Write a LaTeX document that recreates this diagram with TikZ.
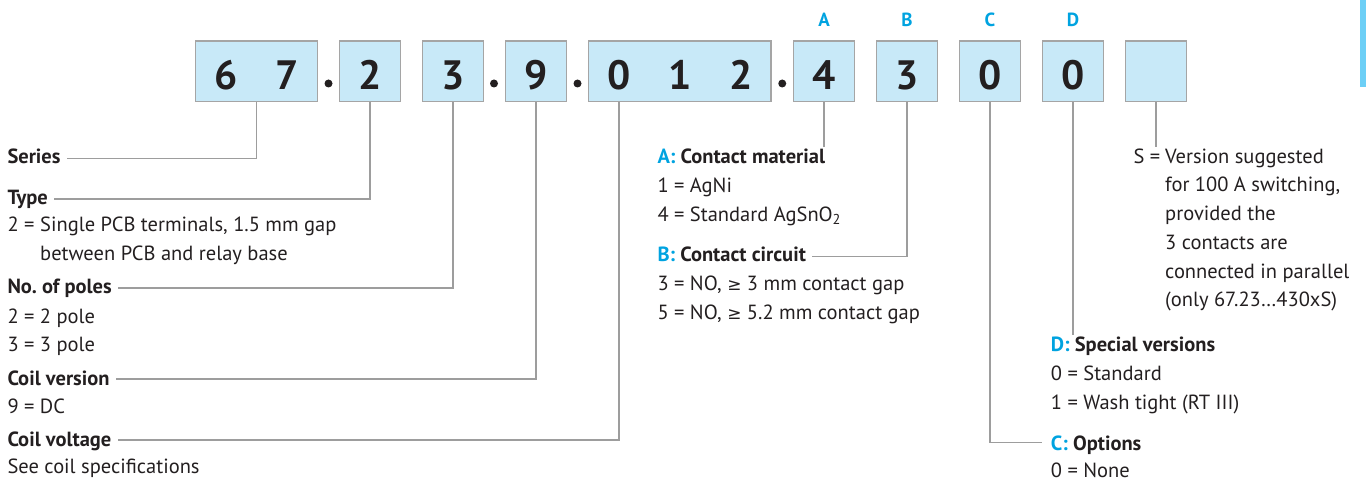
\documentclass[tikz,border=0pt]{standalone}
\usepackage{fontspec}
\setmainfont{PT Sans}
\newfontfamily\symf{DejaVu Sans}
\usetikzlibrary{calc}
\definecolor{cellfill}{HTML}{C8E9F8}
\definecolor{cellline}{HTML}{A5A5A5}
\definecolor{connc}{HTML}{9D9D9D}
\definecolor{cyanA}{HTML}{00A3E0}
\definecolor{txt}{HTML}{231F20}
\definecolor{barc}{HTML}{6DCFF6}
\frenchspacing
\begin{document}
\begin{tikzpicture}[x=1pt,y=-1pt,
 cell/.style={draw=cellline, line width=1.3pt, fill=cellfill, minimum height=60.7pt, minimum width=61pt, inner sep=0pt},
 digit/.style={anchor=base, inner sep=0pt, font=\fontsize{41}{41}\selectfont\bfseries, text=txt},
 letter/.style={anchor=base, inner sep=0pt, font=\fontsize{19}{19}\selectfont\bfseries, text=cyanA},
 lbl/.style={anchor=base west, inner sep=0pt, font=\fontsize{20.5}{24}\selectfont, text=txt},
 head/.style={anchor=base west, inner sep=0pt, font=\fontsize{20.5}{24}\selectfont\bfseries, text=txt},
 connector/.style={draw=connc, line width=1.3pt},
 sepdot/.style={circle, fill=txt, inner sep=0pt, minimum size=8pt}
]
\useasboundingbox (0,0) rectangle (1366,481);
\fill[barc] (1360,0) rectangle (1366,87);

% boxes
\node[cell, minimum width=122pt] (b67) at (256.5,71.35) {};
\node[cell] (b2) at (370,71.35) {};
\node[cell] (b3p) at (453,71.35) {};
\node[cell] (b9) at (536,71.35) {};
\node[cell, minimum width=182.5pt] (b012) at (679.75,71.35) {};
\node[cell] (bA) at (824,71.35) {};
\node[cell] (bB) at (907,71.35) {};
\node[cell] (bC) at (990,71.35) {};
\node[cell] (bD) at (1073,71.35) {};
\node[cell] (bE) at (1156,71.35) {};

% digits
\node[digit] (d6) at (226,89.3) {6};
\node[digit] (d7) at (287,89.3) {7};
\node[digit] (d2) at (370,89.3) {2};
\node[digit] (d3) at (453,89.3) {3};
\node[digit] (d9) at (536,89.3) {9};
\node[digit] (d0) at (619,89.3) {0};
\node[digit] (d1) at (680,89.3) {1};
\node[digit] (d2b) at (741,89.3) {2};
\node[digit] (dA) at (824,89.3) {4};
\node[digit] (dB) at (907,89.3) {3};
\node[digit] (dC) at (990,89.3) {0};
\node[digit] (dD) at (1073,89.3) {0};

% dots
\node[sepdot] (s1) at (328.5,83.5) {};
\node[sepdot] (s2) at (494,83.5) {};
\node[sepdot] (s3) at (577.5,83.5) {};
\node[sepdot] (s4) at (782.25,83.5) {};

% letters
\node[letter] (LA) at (824,26.7) {A};
\node[letter] (LB) at (907,26.7) {B};
\node[letter] (LC) at (990,26.7) {C};
\node[letter] (LD) at (1073,26.7) {D};

% left texts
\node[head] (series) at (7.3,163.5) {Series};
\node[head] (type) at (7.3,205) {Type};
\node[lbl] (t2a) at (7.3,231.7) {2 =};
\node[lbl] (t2b) at (40,231.7) {Single PCB terminals, 1.5 mm gap};
\node[lbl] (t2c) at (40,260.5) {between PCB and relay base};
\node[head] (poles) at (7.3,294) {No. of poles};
\node[lbl] (p2) at (7.3,323.3) {2 = 2 pole};
\node[lbl] (p3) at (7.3,351.7) {3 = 3 pole};
\node[head] (coilv) at (7.3,385) {Coil version};
\node[lbl] (c9) at (7.3,413.3) {9 = DC};
\node[head] (coilu) at (7.3,446) {Coil voltage};
\node[lbl] (cs) at (7.3,473.3) {See coil specifications};

% middle texts
\node[head] (hA) at (657.3,163.3) {{\color{cyanA}A:} Contact material};
\node[lbl] (a1) at (657.3,192.7) {1 = AgNi};
\node[lbl] (a4) at (657.3,221.7) {4 = Standard AgSnO\textsubscript{2}};
\node[head] (hB) at (657.3,261.7) {{\color{cyanA}B:} Contact circuit};
\node[lbl] (b3t) at (657.3,290.7) {3 = NO, {\symf\fontsize{17}{20}\selectfont ≥} 3 mm contact gap};
\node[lbl] (b5t) at (657.3,319.5) {5 = NO, {\symf\fontsize{17}{20}\selectfont ≥} 5.2 mm contact gap};

% right texts
\node[lbl] (sS) at (1133.3,163.3) {S =};
\node[lbl] (s1t) at (1165,163.3) {Version suggested};
\node[lbl] (s2t) at (1165,192) {for 100 A switching,};
\node[lbl] (s3t) at (1165,220.7) {provided the};
\node[lbl] (s4t) at (1165,249.4) {3 contacts are};
\node[lbl] (s5t) at (1165,278.1) {connected in parallel};
\node[lbl] (s6t) at (1165,306.8) {(only 67.23…430xS)};

\node[head] (hD) at (1050.7,351.7) {{\color{cyanA}D:} Special versions};
\node[lbl] (dd0) at (1050.7,380.7) {0 = Standard};
\node[lbl] (dd1) at (1050.7,409.5) {1 = Wash tight (RT III)};
\node[head] (hC) at (1050.7,450) {{\color{cyanA}C:} Options};
\node[lbl] (cc0) at (1050.7,477.5) {0 = None};

% free ends
\coordinate (endA) at (824,146.7);
\coordinate (endD) at (1073,335);
\coordinate (endE) at (1156,146.7);

% connectors
\draw[connector] (b67.south) |- ([shift={(6,-5)}]series.base east);
\draw[connector] (b2.south) |- ([shift={(6,-6)}]type.base east);
\draw[connector] (b3p.south) |- ([shift={(6,-6)}]poles.base east);
\draw[connector] (b9.south) |- ([shift={(6,-6)}]coilv.base east);
\draw[connector] (d0 |- b012.south) |- ([shift={(6,-6)}]coilu.base east);
\draw[connector] (bA.south) -- (endA);
\draw[connector] (bB.south) |- ([shift={(6,-5)}]hB.base east);
\draw[connector] (bC.south) |- ([shift={(-9,-7.5)}]hC.base west);
\draw[connector] (bD.south) -- (endD);
\draw[connector] (bE.south) -- (endE);
\end{tikzpicture}
\end{document}
